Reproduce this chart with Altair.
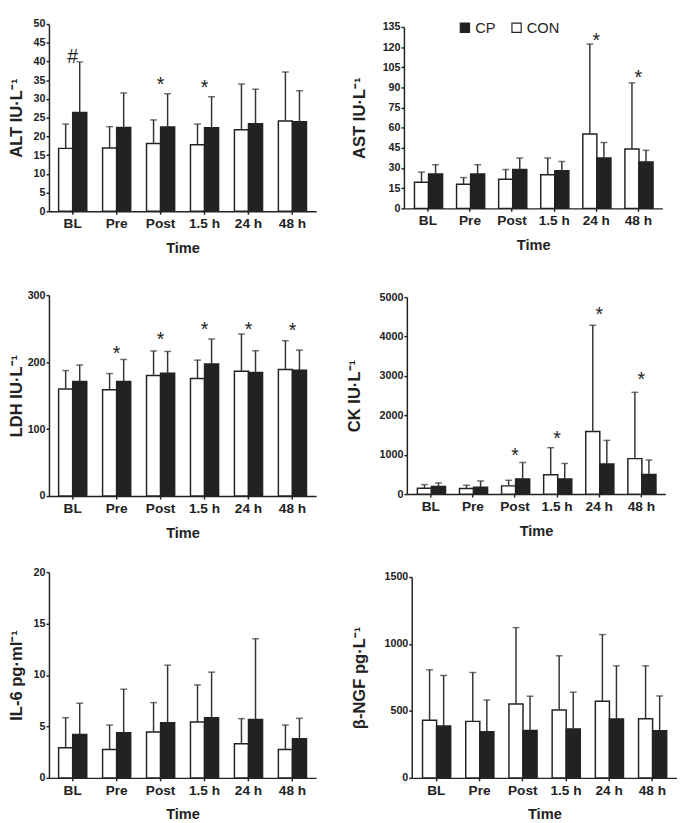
import altair as alt
import pandas as pd

times = ["BL", "Pre", "Post", "1.5 h", "24 h", "48 h"]

# ALT
alt_con = [16.8, 16.9, 18.1, 17.8, 21.8, 24.1]
alt_con_up = [23.3, 22.6, 24.4, 23.3, 34.0, 37.2]
alt_cp = [26.4, 22.4, 22.5, 22.3, 23.4, 23.9]
alt_cp_up = [39.9, 31.6, 31.4, 30.6, 32.6, 32.2]
alt_sig_t = ["BL", "Post", "1.5 h"]
alt_sig_y = [42.5, 34.9, 34.2]
alt_sig_s = ["#", "*", "*"]

# AST
ast_con = [19.4, 17.9, 21.7, 25.1, 55.4, 44.2]
ast_con_up = [27.0, 22.9, 28.9, 37.5, 122.3, 93.4]
ast_cp = [25.6, 25.6, 28.9, 28.0, 37.5, 34.6]
ast_cp_up = [32.5, 32.5, 37.5, 34.9, 49.0, 43.2]
ast_sig_t = ["24 h", "48 h"]
ast_sig_y = [127.8, 100.8]
ast_sig_s = ["*", "*"]

# LDH
ldh_con = [160, 158.7, 180, 175.5, 186.4, 189]
ldh_con_up = [187.4, 183, 216.7, 203, 242, 232]
ldh_cp = [171, 171, 183.4, 197.3, 184.4, 188]
ldh_cp_up = [195.8, 204, 216, 234.5, 217, 218]
ldh_sig_t = ["Pre", "Post", "1.5 h", "24 h", "48 h"]
ldh_sig_y = [219.6, 239.5, 255, 255, 254]
ldh_sig_s = ["*", "*", "*", "*", "*"]

# CK
ck_con = [150, 142, 209, 493, 1591, 901]
ck_con_up = [242, 226, 351, 1179, 4285, 2584]
ck_cp = [192, 176, 385, 385, 765, 497]
ck_cp_up = [284, 334, 803, 778, 1364, 866]
ck_sig_t = ["Post", "1.5 h", "24 h", "48 h"]
ck_sig_y = [1095, 1507, 4664, 3022]
ck_sig_s = ["*", "*", "*", "*"]

# IL-6
il6_con = [2.93, 2.76, 4.46, 5.43, 3.32, 2.76]
il6_con_up = [5.85, 5.14, 7.32, 9.04, 5.76, 5.14]
il6_cp = [4.23, 4.39, 5.37, 5.85, 5.69, 3.80]
il6_cp_up = [7.25, 8.62, 10.96, 10.28, 13.53, 5.79]

# beta-NGF
ngf_con = [430, 422, 552, 507, 572, 442]
ngf_con_up = [807, 787, 1122, 912, 1070, 837]
ngf_cp = [387, 345, 355, 365, 440, 352]
ngf_cp_up = [765, 582, 610, 640, 837, 612]

FONT = "Liberation Sans"
INK = "#222222"


def panel(con, con_up, cp, cp_up, ymax, ystep, ytitle, w, h, top_off, title_x,
          sig_t=None, sig_y=None, sig_s=None, legend=False, p_outer=0.22):
    df = pd.DataFrame({
        "Time": times * 2,
        "Group": ["CON"] * 6 + ["CP"] * 6,
        "mean": con + cp,
        "upper": con_up + cp_up,
    })
    xaxis = alt.Axis(title="Time", labelAngle=0, labelFontSize=14,
                     titleFontSize=15, labelPadding=3, titlePadding=10)
    xscale = alt.Scale(paddingInner=0.36, paddingOuter=p_outer)
    x = alt.X("Time:N", sort=times, scale=xscale, axis=xaxis)
    xo = alt.XOffset("Group:N", sort=["CON", "CP"],
                     scale=alt.Scale(paddingInner=0, paddingOuter=0))
    yscale = alt.Scale(domain=[0, ymax], nice=False, zero=True, range=[h, top_off])
    yaxis = alt.Axis(values=list(range(0, ymax + 1, ystep)), format="d",
                     labelOverlap=False, title=ytitle, labelFontSize=11,
                     titleFontSize=17, titleX=title_x, labelPadding=1)

    def Y(field):
        return alt.Y(field, type="quantitative", scale=yscale, axis=yaxis)

    if legend:
        leg = alt.Legend(title=None, orient="none", direction="horizontal",
                         legendX=55, legendY=-4, padding=0, offset=0,
                         titlePadding=0, rowPadding=0,
                         symbolType="square",
                         symbolSize=90, symbolStrokeColor=INK,
                         symbolStrokeWidth=1.2, labelFontSize=15,
                         labelFont=FONT, labelFontWeight="normal",
                         labelColor=INK, columnPadding=14, labelOffset=3)
    else:
        leg = None
    fill = alt.Fill("Group:N",
                    scale=alt.Scale(domain=["CP", "CON"], range=[INK, "white"]),
                    legend=leg)
    bars = alt.Chart(df).mark_bar(stroke=INK, strokeWidth=1.5).encode(
        x=x, xOffset=xo, y=Y("mean"), fill=fill)
    rules = alt.Chart(df).mark_rule(color="#333333", strokeWidth=1.5).encode(
        x=x, xOffset=xo, y=Y("mean"), y2="upper:Q")
    caps = alt.Chart(df).mark_tick(color="#333333", thickness=1.5, size=7).encode(
        x=x, xOffset=xo, y=Y("upper"))
    layers = [bars, rules, caps]
    if sig_t:
        sdf = pd.DataFrame({"Time": sig_t, "y": sig_y, "s": sig_s})
        txt = alt.Chart(sdf).mark_text(font=FONT, fontSize=20, color=INK,
                                       baseline="middle", dy=5).encode(
            x=x, y=Y("y"), text="s:N")
        layers.append(txt)
    return alt.layer(*layers).properties(width=w, height=h)


p_alt = panel(alt_con, alt_con_up, alt_cp, alt_cp_up, 50, 5, "ALT IU·L⁻¹", 274, 192, 0, -24,
              alt_sig_t, alt_sig_y, alt_sig_s)
p_ast = panel(ast_con, ast_con_up, ast_cp, ast_cp_up, 135, 15, "AST IU·L⁻¹", 265, 189, 3, -36,
              ast_sig_t, ast_sig_y, ast_sig_s, legend=True, p_outer=0.25)
p_ldh = panel(ldh_con, ldh_con_up, ldh_cp, ldh_cp_up, 300, 100, "LDH IU·L⁻¹", 274, 221, 15, -24,
              ldh_sig_t, ldh_sig_y, ldh_sig_s)
p_ck = panel(ck_con, ck_con_up, ck_cp, ck_cp_up, 5000, 1000, "CK IU·L⁻¹", 265, 219, 17, -45,
             ck_sig_t, ck_sig_y, ck_sig_s, p_outer=0.25)
p_il6 = panel(il6_con, il6_con_up, il6_cp, il6_cp_up, 20, 5, "IL-6 pg·ml⁻¹", 274, 218, 7, -24)
p_ngf = panel(ngf_con, ngf_con_up, ngf_cp, ngf_cp_up, 1500, 500, "β-NGF pg·L⁻¹", 272, 218, 12, -44,
              p_outer=0.25)

row1 = alt.hconcat(p_alt, p_ast, spacing=36).resolve_scale(fill="independent")
row2 = alt.hconcat(p_ldh, p_ck, spacing=30).resolve_scale(fill="independent")
row3 = alt.hconcat(p_il6, p_ngf, spacing=36).resolve_scale(fill="independent")

chart = alt.vconcat(row1, row2, row3, spacing=26).resolve_scale(
    fill="independent"
).properties(padding=0).configure_view(stroke=None).configure_axis(
    labelFont=FONT, titleFont=FONT, labelFontWeight="bold", titleFontWeight="bold",
    labelColor=INK, titleColor=INK, domainColor=INK, domainWidth=1.5,
    tickColor=INK, tickWidth=1.5, tickSize=3, grid=False
)

chart.save("out.html", embed_options={"renderer": "svg", "actions": False})
